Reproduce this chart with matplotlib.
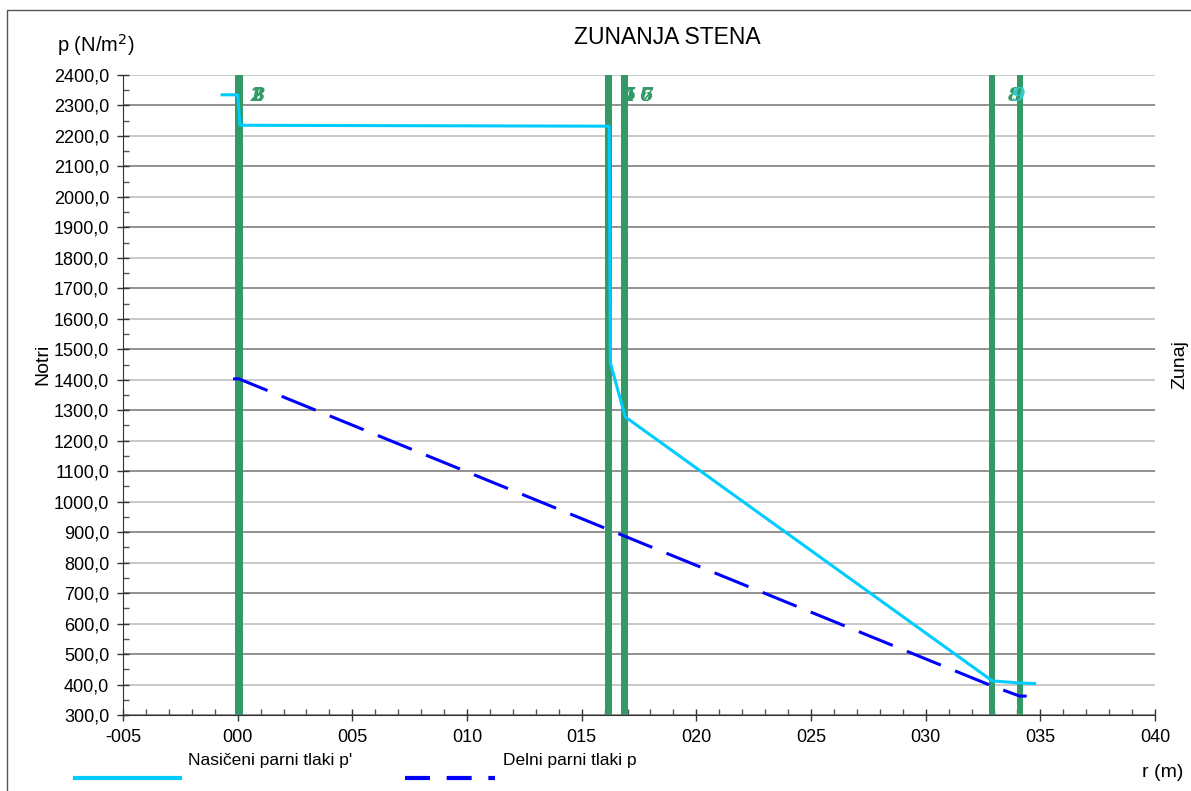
import matplotlib
matplotlib.use("Agg")
import matplotlib.pyplot as plt
from matplotlib.lines import Line2D
from matplotlib.ticker import MultipleLocator, FuncFormatter

plt.rcParams['font.family'] = ['Liberation Sans', 'DejaVu Sans']

# saturated vapour pressure p' (cyan line)
sat_r = [-0.0068, 0.0, 0.001, 0.162, 0.1625, 0.169, 0.329, 0.341, 0.3475]
sat_p = [2335, 2335, 2235, 2232, 1455, 1278, 412, 405, 403]

# partial vapour pressure p (dashed blue)
part_r = [-0.002, 0.0005, 0.329, 0.341, 0.344]
part_p = [1403, 1403, 395, 362, 362]

# layer boundaries and their labels
bound_r = [0.0, 0.0005, 0.001, 0.1615, 0.162, 0.1685, 0.169, 0.329, 0.341]
bound_lbl = ['1', '2', '3', '4', '5', '6', '7', '8', '9']
lbl_r = [0.008, 0.0085, 0.009, 0.1705, 0.171, 0.178, 0.1785, 0.3385, 0.3405]
lbl_col = ['#339966'] * 8 + ['#33CCCC']

xtick_vals = [-0.05, 0.0, 0.05, 0.10, 0.15, 0.20, 0.25, 0.30, 0.35, 0.40]
xtick_lbls = ['-005', '000', '005', '010', '015', '020', '025', '030', '035', '040']

fig = plt.figure(figsize=(11.91, 7.91), dpi=100)
ax = fig.add_axes([0.1033, 0.0961, 0.8665, 0.8091])

ax.set_xlim(-0.05, 0.40)
ax.set_ylim(300, 2400)

# alternating horizontal grid lines
for v in range(300, 2401, 100):
    c = '#7f7f7f' if (v // 100) % 2 == 1 else '#bfbfbf'
    ax.axhline(v, color=c, lw=1.2, zorder=0)

for r in bound_r:
    ax.axvline(r, color='#339966', lw=4.3, zorder=2)

for r, t, c in zip(lbl_r, bound_lbl, lbl_col):
    ax.text(r, 2330, t, color=c, fontsize=14, family='DejaVu Serif',
            style='italic', fontweight='bold', ha='center', va='center', zorder=3)

ax.plot(sat_r, sat_p, color='#00CCFF', lw=2.2, zorder=4)
ax.plot(part_r, part_p, color='#0000FF', lw=2.2, dashes=(12, 5), zorder=4)

ax.set_xticks(xtick_vals)
ax.set_xticklabels(xtick_lbls)
ax.xaxis.set_minor_locator(MultipleLocator(0.01))
ax.yaxis.set_major_locator(MultipleLocator(100))
ax.yaxis.set_minor_locator(MultipleLocator(50))
ax.yaxis.set_major_formatter(FuncFormatter(lambda v, p: f"{v:.1f}".replace('.', ',')))

ax.tick_params(which='major', direction='inout', length=8, width=1, color='#333333',
               labelsize=13, pad=6)
ax.tick_params(which='minor', direction='in', length=4, width=1, color='#555555')

for s in ['top', 'right']:
    ax.spines[s].set_visible(False)
for s in ['left', 'bottom']:
    ax.spines[s].set_color('#333333')

fig.text(0.56, 0.952, 'ZUNANJA STENA', fontsize=16.5, ha='center', va='center')
fig.text(0.048, 0.943, 'p (N/m$^2$)', fontsize=14.5, ha='left', va='center')
fig.text(0.036, 0.539, 'Notri', fontsize=14, rotation=90, ha='center', va='center')
fig.text(0.991, 0.539, 'Zunaj', fontsize=14, rotation=90, ha='center', va='center')
fig.text(0.976, 0.023, 'r (m)', fontsize=14, ha='center', va='center')

# legend at the bottom
fig.add_artist(Line2D([0.063, 0.151], [0.0165, 0.0165], color='#00CCFF', lw=3))
fig.text(0.158, 0.039, "Nasičeni parni tlaki p'", fontsize=12.5, ha='left', va='center')
fig.add_artist(Line2D([0.34, 0.416], [0.0165, 0.0165], color='#0000FF', lw=3, dashes=(6, 4)))
fig.text(0.422, 0.039, 'Delni parni tlaki p', fontsize=12.5, ha='left', va='center')

# outer frame
fig.add_artist(Line2D([0.006, 0.006, 1.0], [0.0, 0.987, 0.987], color='#555555', lw=1))

fig.savefig('out.png', dpi=100)
